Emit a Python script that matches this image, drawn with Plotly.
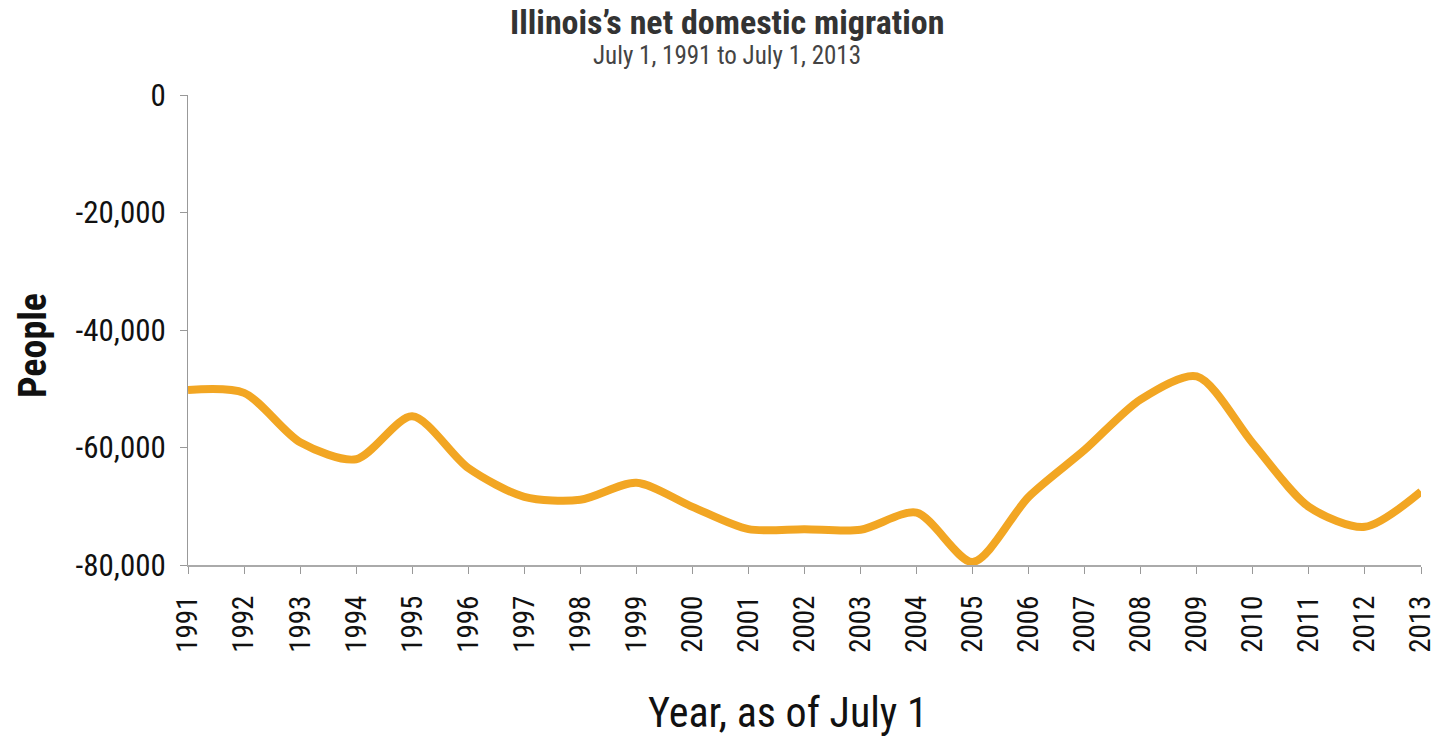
import plotly.graph_objects as go

years = [str(y) for y in range(1991, 2014)]
net_migration = [-50200, -50700, -59100, -62000, -54700, -63500, -68400, -68900,
                 -66000, -70100, -73900, -73900, -74000, -71100, -79500, -68400,
                 -60400, -51800, -47900, -59300, -70100, -73500, -67500]
y_ticks = [0, -20000, -40000, -60000, -80000]
y_tick_labels = ["0", "-20,000", "-40,000", "-60,000", "-80,000"]

FONT = "Roboto Condensed, Liberation Sans Narrow, DejaVu Sans Condensed, sans-serif"

fig = go.Figure()
fig.add_trace(go.Scatter(
    x=list(range(len(years))), y=net_migration, mode="lines",
    line=dict(color="#F2A623", width=8, shape="spline", smoothing=0.8),
    hoverinfo="x+y", showlegend=False,
))

fig.update_layout(
    width=1452, height=740,
    margin=dict(l=188, r=31, t=95, b=175),
    paper_bgcolor="white", plot_bgcolor="white",
    font=dict(family=FONT, color="#111"),
    xaxis=dict(
        range=[0, len(years) - 1], tickmode="array",
        tickvals=list(range(len(years))), ticktext=years,
        tickangle=-90, tickfont=dict(size=29, color="#111"),
        showline=True, linecolor="#aaa", linewidth=2,
        ticks="outside", ticklen=7, tickcolor="#999", tickwidth=1,
        ticklabelstandoff=10,
        showgrid=False, zeroline=False,
    ),
    yaxis=dict(
        range=[-80000, 0], tickmode="array", tickvals=y_ticks, ticktext=y_tick_labels,
        tickfont=dict(size=31, color="#111"),
        showline=True, linecolor="#999", linewidth=1,
        ticks="outside", ticklen=7, tickcolor="#999", tickwidth=1,
        ticklabelstandoff=8,
        showgrid=False, zeroline=False,
    ),
)
# Titles
fig.add_annotation(text="<b>Illinois’s net domestic migration</b>", xref="paper", yref="paper",
                   x=0.437, y=1.0, yshift=73, showarrow=False, yanchor="middle",
                   font=dict(size=34, color="#333", family=FONT))
fig.add_annotation(text="July 1, 1991 to July 1, 2013", xref="paper", yref="paper",
                   x=0.437, y=1.0, yshift=40, showarrow=False, yanchor="middle",
                   font=dict(size=25, color="#444", family=FONT))
# Axis titles
fig.add_annotation(text="Year, as of July 1", xref="paper", yref="paper",
                   x=0.487, y=0.0, yshift=-147, showarrow=False, yanchor="middle",
                   font=dict(size=42, color="#111", family=FONT))
fig.add_annotation(text="<b>People</b>", xref="paper", yref="paper",
                   x=0.0, xshift=-155, y=0.5, yshift=-16, showarrow=False,
                   xanchor="center", yanchor="middle", textangle=-90,
                   font=dict(size=38, color="#111", family=FONT))

fig.write_html("out.html")
